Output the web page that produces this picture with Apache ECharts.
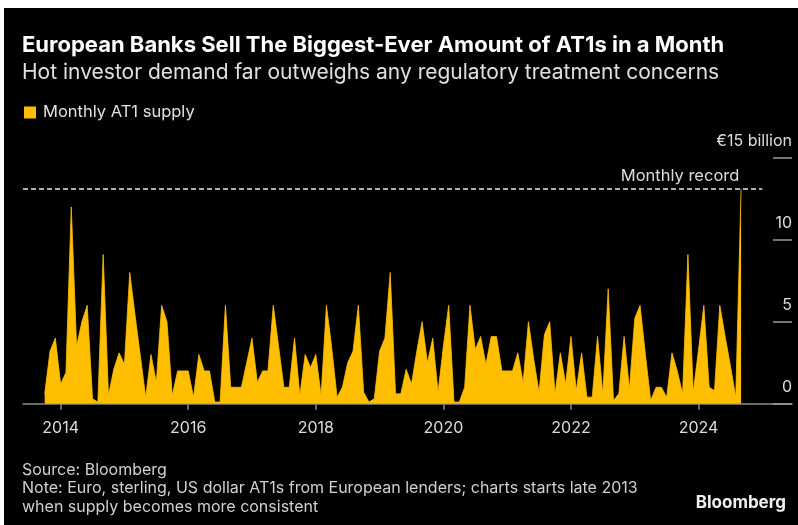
<!DOCTYPE html>
<html>
<head>
<meta charset="utf-8">
<script src="https://cdn.jsdelivr.net/npm/echarts@6/dist/echarts.min.js"></script>
<style>
  html, body { margin: 0; padding: 0; background: #fff; width: 798px; height: 525px; overflow: hidden; }
  #frame { position: absolute; left: 4px; top: 8px; width: 794px; height: 517px; background: #000; }
  #chart { position: absolute; left: 0; top: 0; width: 798px; height: 525px; }
</style>
</head>
<body>
<div id="frame"></div>
<div id="chart"></div>
<script>
// Monthly AT1 issuance by European banks, € billion, starting October 2013
const startYear = 2013;
const startMonth = 10;
const supply = [
  0.6, 3.2, 4.0,                                                    // 2013 Oct-Dec
  1.2, 1.9, 12.0, 3.5, 5.0, 6.0, 0.3, 0.1, 9.1, 0.5, 2.1, 3.1,      // 2014
  2.4, 8.0, 5.4, 2.9, 0.4, 3.0, 1.3, 6.0, 5.0, 0.5, 2.0, 2.0,       // 2015
  2.0, 0.4, 3.0, 2.0, 2.0, 0.1, 0.1, 6.0, 1.0, 1.0, 1.0, 2.5,       // 2016
  4.0, 1.3, 2.0, 2.0, 6.0, 3.5, 1.0, 1.0, 4.0, 0.5, 3.0, 2.2,       // 2017
  3.0, 0.5, 6.0, 3.4, 0.4, 1.0, 2.5, 3.2, 6.0, 0.7, 0.1, 0.3,       // 2018
  3.2, 4.0, 8.0, 0.6, 0.6, 2.1, 1.2, 3.2, 5.0, 2.5, 4.0, 0.7,       // 2019
  3.5, 6.0, 0.1, 0.1, 1.0, 6.0, 3.3, 4.1, 2.4, 4.1, 4.1, 2.0,       // 2020
  2.0, 2.0, 3.1, 1.3, 5.0, 2.7, 0.7, 4.2, 5.0, 0.6, 3.1, 1.2,       // 2021
  4.1, 0.8, 3.1, 0.4, 0.4, 4.1, 0.6, 7.0, 0.2, 0.6, 4.1, 0.9,       // 2022
  5.2, 6.0, 3.0, 0.2, 1.0, 1.0, 0.4, 3.1, 2.0, 0.6, 9.1, 0.7,       // 2023
  3.3, 6.0, 1.0, 0.8, 6.0, 4.1, 2.3, 0.4, 13.1                      // 2024 Jan-Sep
];
const monthlyRecord = 13.1;
const yearTicks = [2014, 2016, 2018, 2020, 2022, 2024];
const valueTicks = [0, 5, 10, 15];

const YELLOW = '#FFBF00';
const FONT = "Inter, 'Liberation Sans', Arial, sans-serif";
const X_MIN = 2013.41;
const X_MAX = 2025.465;
const RECORD_END = 2025.0;

// month index -> decimal year position on the value axis
const points = supply.map((v, i) => [startYear + (startMonth - 1 + i) / 12, v]);

const chart = echarts.init(document.getElementById('chart'), null, { renderer: 'canvas' });

chart.setOption({
  backgroundColor: 'transparent',
  animation: false,
  textStyle: { fontFamily: FONT },
  grid: { left: 23, right: 6, top: 157.7, bottom: 121.3, containLabel: false },
  legend: {
    left: 24, top: 104, padding: 0,
    icon: 'rect', itemWidth: 12, itemHeight: 12, itemGap: 10,
    textStyle: { color: '#e0e0e0', fontSize: 16.5, fontFamily: FONT, padding: [0, 0, 0, 2] },
    data: ['Monthly AT1 supply']
  },
  xAxis: {
    type: 'value', min: X_MIN, max: X_MAX,
    splitLine: { show: false },
    axisLine: { show: true, lineStyle: { color: '#8a8a8a', width: 1.5 } },
    axisTick: { show: true, customValues: yearTicks, length: 6, lineStyle: { color: '#8a8a8a', width: 1.5 } },
    axisLabel: {
      customValues: yearTicks, margin: 16,
      color: '#dcdcdc', fontSize: 16, fontFamily: FONT,
      formatter: v => String(Math.round(v))
    }
  },
  yAxis: {
    type: 'value', position: 'right', min: 0, max: 15, interval: 5,
    splitLine: { show: false },
    axisLine: { show: false },
    axisTick: { show: true, inside: true, length: 19, lineStyle: { color: '#9a9a9a', width: 1.5 } },
    axisLabel: {
      inside: true, margin: 0, align: 'right', verticalAlign: 'bottom',
      padding: [0, 0, 9, 0],
      color: '#dcdcdc', fontSize: 16, fontFamily: FONT,
      formatter: v => (v === valueTicks[valueTicks.length - 1] ? '€' + v + ' billion' : String(v))
    }
  },
  series: [{
    name: 'Monthly AT1 supply',
    type: 'line',
    data: points,
    symbol: 'none',
    itemStyle: { color: YELLOW },
    lineStyle: { color: YELLOW, width: 0.8 },
    areaStyle: { color: YELLOW, opacity: 1 },
    z: 2,
    markLine: {
      silent: true,
      symbol: ['none', 'none'],
      lineStyle: { type: [5, 3], color: '#e8e8e8', width: 1.5 },
      label: {
        show: true, position: 'insideEndTop', distance: [23, 4],
        formatter: 'Monthly record', color: '#dcdcdc', fontSize: 16.5, fontFamily: FONT
      },
      data: [[{ coord: [X_MIN, monthlyRecord] }, { coord: [RECORD_END, monthlyRecord] }]]
    }
  }],
  graphic: [
    { type: 'text', left: 22, top: 34, style: {
      text: 'European Banks Sell The Biggest-Ever Amount of AT1s in a Month',
      fill: '#ffffff', font: 'bold 22px ' + FONT } },
    { type: 'text', left: 22, top: 62, style: {
      text: 'Hot investor demand far outweighs any regulatory treatment concerns',
      fill: '#e0e0e0', font: '21px ' + FONT } },
    { type: 'text', left: 22, top: 462, style: {
      text: 'Source: Bloomberg', fill: '#d0d0d0', font: '16px ' + FONT } },
    { type: 'text', left: 22, top: 480, style: {
      text: 'Note: Euro, sterling, US dollar AT1s from European lenders; charts starts late 2013',
      fill: '#d0d0d0', font: '16px ' + FONT } },
    { type: 'text', left: 22, top: 499, style: {
      text: 'when supply becomes more consistent', fill: '#d0d0d0', font: '16px ' + FONT } },
    { type: 'text', right: 12, top: 494, style: {
      text: 'Bloomberg', fill: '#f0f0f0', font: 'bold 17px ' + FONT } }
  ]
});
</script>
</body>
</html>
